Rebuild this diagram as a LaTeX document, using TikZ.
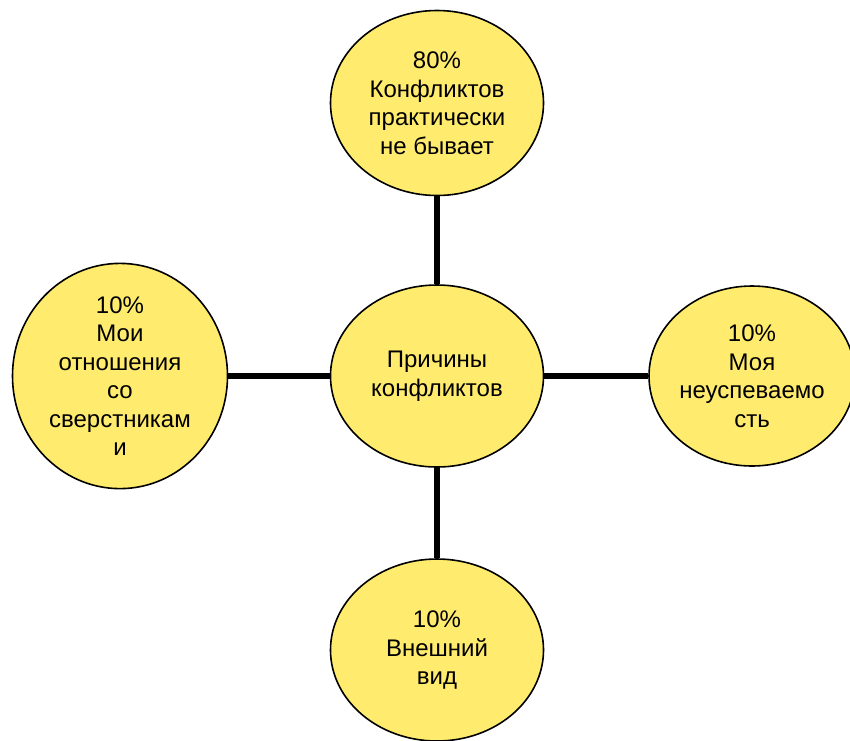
\documentclass[tikz,border=0pt]{standalone}
\usepackage{fontspec}
\setmainfont{Liberation Sans}
\usetikzlibrary{shapes.geometric}
\definecolor{jaune}{RGB}{255,236,110}

\begin{document}
\begin{tikzpicture}[x=1pt, y=-1pt]
\tikzset{ovale/.style={draw, ellipse, fill=jaune, line width=1.6pt, inner sep=0pt, minimum width=213pt, minimum height=182pt, align=center, font=\fontsize{24}{28.5}\selectfont}}
\tikzset{trait/.style={line width=5.5pt}}
\useasboundingbox (0,0) rectangle (850,740);
\clip (0,0) rectangle (850,740);
\node[ovale] (C) at (437,376) {Причины\\конфликтов};
\node[ovale, minimum height=185pt] (V1) at (437,103) {80\%\\Конфликтов\\практически\\не бывает};
\node[ovale, minimum width=206pt, minimum height=180pt] (V2) at (752,376) {10\%\\Моя\\неуспеваемо\\сть};
\node[ovale] (V3) at (437,650) {10\%\\Внешний\\вид};
\node[ovale, minimum width=215pt] (V4) at (120,376) {10\%\\Мои\\отношения\\со\\сверстникам\\и};
\draw[trait] (C) -- (V1);
\draw[trait] (C) -- (V2);
\draw[trait] (C) -- (V3);
\draw[trait] (C) -- (V4);
\end{tikzpicture}
\end{document}
